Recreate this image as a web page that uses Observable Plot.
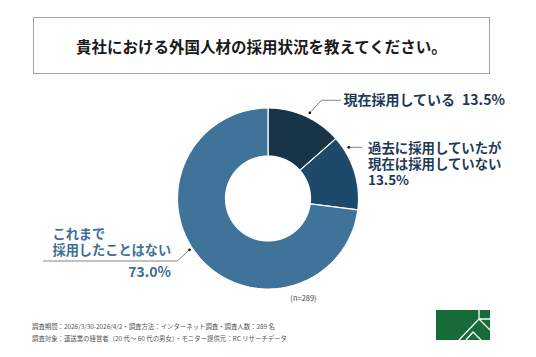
<!DOCTYPE html>
<html>
<head>
<meta charset="utf-8">
<script src="https://cdn.jsdelivr.net/npm/d3@7"></script>
<script src="https://cdn.jsdelivr.net/npm/@observablehq/plot@0.6"></script>
<style>
  html, body { margin: 0; padding: 0; background: #fff; }
  body { width: 536px; height: 357px; overflow: hidden; font-family: "Noto Sans CJK JP", "Noto Sans", sans-serif; }
  #wrap { position: relative; width: 536px; height: 357px; }
  #chart { position: absolute; left: 0; top: 0; }
  #title { position: absolute; left: 33px; top: 17px; width: 455px; height: 55px; border: 1px solid #a5a5a5;
           display: flex; align-items: center; justify-content: center; font-size: 15.5px; font-weight: bold; color: #1a1a1a; box-sizing: content-box; }
  .foot { position: absolute; left: 32px; font-size: 6.4px; color: #555; white-space: nowrap; line-height: 9px; }
  #logo { position: absolute; left: 436px; top: 310px; }
</style>
</head>
<body>
<div id="wrap">
  <div id="chart"></div>
  <div id="title">貴社における外国人材の採用状況を教えてください。</div>
  <div class="foot" style="top:321.5px">調査期間：2026/3/30-2026/4/2・調査方法：インターネット調査・調査人数：289 名</div>
  <div class="foot" style="top:333.5px">調査対象：運送業の経営者（20 代～ 60 代の男女）・モニター提供元：RC リサーチデータ</div>
  <svg id="logo" width="54" height="30" viewBox="0 0 54 30">
    <rect x="0" y="0" width="54" height="30" fill="#176b38"/>
    <path d="M43 0 V9 H54 M43 9 L23 30 M30 30 L37 22 L45 30 M43 9 L54 20" stroke="#fff" stroke-width="1.3" fill="none"/>
  </svg>
</div>
<script>
// ---- data ----
const categories = ["現在採用している", "過去に採用していたが現在は採用していない", "これまで採用したことはない"];
const values = [13.5, 13.5, 73.0];
const categoryLines = [["現在採用している"], ["過去に採用していたが", "現在は採用していない"], ["これまで", "採用したことはない"]];
const sampleNote = "(n=289)";

// ---- layout / style ----
const colors = ["#173449", "#1d4a6a", "#40739a"];
const cx = 267.5, cy = 198, rOuter = 90.5, rInner = 42.5;
const labelColors = ["#1c3a56", "#1c3a56", "#3e6f95"];

const data = categories.map((c, i) => ({label: c, value: values[i], lines: categoryLines[i]}));
const arcs = d3.pie().sort(null).value(d => d.value)(data);

// polygon points for each donut slice, derived from pie angles
const slicePts = [];
arcs.forEach(a => {
  const n = 120;
  const pts = [];
  for (let k = 0; k <= n; k++) {
    const t = a.startAngle + (a.endAngle - a.startAngle) * k / n;
    pts.push([cx + rOuter * Math.sin(t), cy - rOuter * Math.cos(t)]);
  }
  for (let k = n; k >= 0; k--) {
    const t = a.startAngle + (a.endAngle - a.startAngle) * k / n;
    pts.push([cx + rInner * Math.sin(t), cy - rInner * Math.cos(t)]);
  }
  pts.push(pts[0]);
  pts.forEach(p => slicePts.push({label: a.data.label, x: p[0], y: p[1]}));
});

// leader lines (layout)
const leaders = [
  {id: 0, pts: [[309.3, 112.3], [321, 99.8], [340, 99.8]]},
  {id: 1, pts: [[348.3, 146.8], [361.5, 146.8]]},
  {id: 2, pts: [[189, 249.3], [176.7, 260.5], [43, 260.5]]}
];
const leaderPts = leaders.flatMap(l => l.pts.map(p => ({id: l.id, x: p[0], y: p[1]})));
const leaderDots = leaders.map(l => ({x: l.pts[0][0], y: l.pts[0][1]}));

const pct = v => v.toFixed(1) + "%";
// text labels (positions are layout)
const texts = [
  {x: 343, y: 100.5, anchor: "start", text: data[0].lines[0] + "\u2002" + pct(data[0].value), fill: labelColors[0], size: 14, lh: 1},
  {x: 367.5, y: 163.5, anchor: "start", text: [...data[1].lines, pct(data[1].value)].join("\n"), fill: labelColors[1], size: 13.4, lh: 1.21},
  {x: 52, y: 241.3, anchor: "start", text: data[2].lines.join("\n"), fill: labelColors[2], size: 13.2, lh: 1.25},
  {x: 170.5, y: 272, anchor: "end", text: pct(data[2].value), fill: labelColors[2], size: 14, lh: 1}
];

const chart = Plot.plot({
  width: 536, height: 357, margin: 0,
  x: {domain: [0, 536], range: [0, 536], axis: null},
  y: {domain: [0, 357], range: [0, 357], axis: null},
  color: {domain: categories, range: colors},
  style: {fontFamily: "'Noto Sans CJK JP', 'Noto Sans', sans-serif", background: "transparent"},
  marks: [
    Plot.line(slicePts, {x: "x", y: "y", z: "label", fill: "label", stroke: "#ffffff", strokeWidth: 1.2, curve: "linear"}),
    Plot.line(leaderPts, {x: "x", y: "y", z: "id", stroke: "#666", strokeWidth: 0.8}),
    Plot.dot(leaderDots, {x: "x", y: "y", r: 1.4, fill: "#1a1a1a"}),
    ...texts.map(t => Plot.text([t], {x: "x", y: "y", text: "text", textAnchor: t.anchor, fill: t.fill,
      fontSize: t.size, fontWeight: "bold", lineAnchor: "middle", lineHeight: t.lh})),
    Plot.text([sampleNote], {x: [303], y: [298], text: d => d, fontSize: 7.5, fill: "#444", lineAnchor: "middle"})
  ]
});
document.getElementById("chart").appendChild(chart);
</script>
</body>
</html>
